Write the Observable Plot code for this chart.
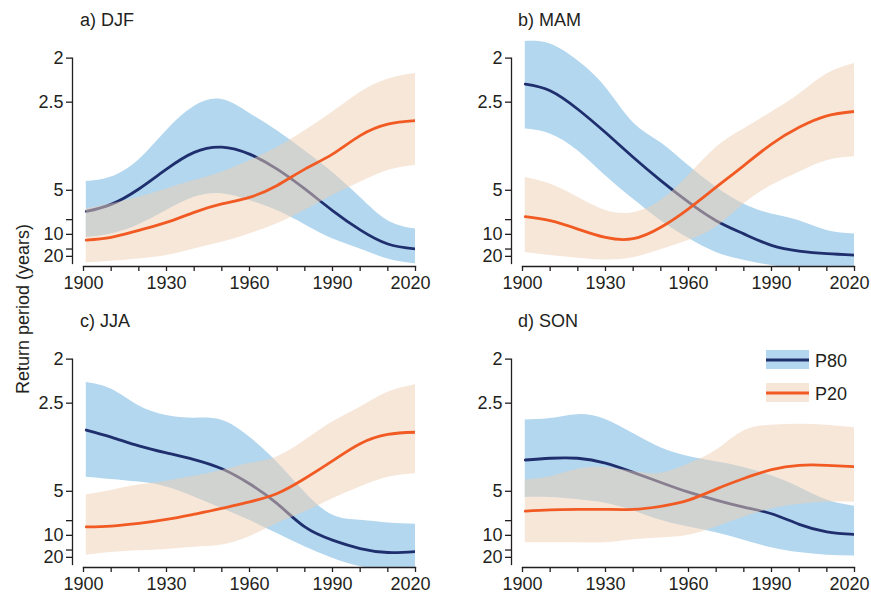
<!DOCTYPE html>
<html>
<head>
<meta charset="utf-8">
<script src="https://cdn.jsdelivr.net/npm/d3@7"></script>
<script src="https://cdn.jsdelivr.net/npm/@observablehq/plot@0.6"></script>
<style>
html, body { margin: 0; padding: 0; background: #fff; }
#wrap { position: relative; width: 871px; height: 599px; font-family: "Liberation Sans", Arial, sans-serif; color: #231f20; }
.panel { position: absolute; width: 435px; height: 300px; }
#overlay { position: absolute; left: 0; top: 0; pointer-events: none; }
</style>
</head>
<body>
<div id="wrap"></div>
<script>
// ---- data: annual exceedance probability (= 1 / return period in years) ----
const years = [1901, 1910, 1920, 1930, 1940, 1950, 1960, 1970, 1980, 1990, 2000, 2010, 2020];

// a) DJF
const djfP80   = [0.152, 0.168, 0.203, 0.248, 0.286, 0.298, 0.282, 0.248, 0.203, 0.154, 0.110, 0.078, 0.067];
const djfP80Lo = [0.093, 0.101, 0.122, 0.154, 0.184, 0.192, 0.177, 0.154, 0.122, 0.090, 0.067, 0.044, 0.033];
const djfP80Hi = [0.220, 0.230, 0.269, 0.335, 0.390, 0.406, 0.375, 0.335, 0.290, 0.241, 0.184, 0.131, 0.112];
const djfP20   = [0.087, 0.093, 0.109, 0.127, 0.150, 0.169, 0.184, 0.211, 0.248, 0.282, 0.324, 0.350, 0.358];
const djfP20Lo = [0.035, 0.039, 0.044, 0.052, 0.067, 0.082, 0.101, 0.124, 0.154, 0.188, 0.218, 0.245, 0.257];
const djfP20Hi = [0.158, 0.169, 0.184, 0.203, 0.222, 0.241, 0.267, 0.297, 0.335, 0.377, 0.422, 0.452, 0.465];

// b) MAM
const mamP80   = [0.441, 0.426, 0.384, 0.331, 0.275, 0.222, 0.173, 0.131, 0.101, 0.075, 0.062, 0.056, 0.053];
const mamP80Lo = [0.339, 0.328, 0.290, 0.233, 0.180, 0.131, 0.091, 0.059, 0.041, 0.029, 0.022, 0.018, 0.016];
const mamP80Hi = [0.538, 0.532, 0.494, 0.434, 0.354, 0.308, 0.256, 0.207, 0.169, 0.146, 0.131, 0.109, 0.101];
const mamP20   = [0.140, 0.131, 0.112, 0.093, 0.090, 0.116, 0.158, 0.207, 0.256, 0.305, 0.343, 0.369, 0.379];
const mamP20Lo = [0.059, 0.052, 0.046, 0.042, 0.047, 0.065, 0.086, 0.116, 0.169, 0.211, 0.241, 0.267, 0.276];
const mamP20Hi = [0.229, 0.214, 0.184, 0.154, 0.149, 0.177, 0.233, 0.297, 0.339, 0.377, 0.418, 0.464, 0.488];

// c) JJA
const jjaP80   = [0.339, 0.323, 0.303, 0.287, 0.272, 0.251, 0.217, 0.172, 0.119, 0.089, 0.070, 0.061, 0.063];
const jjaP80Lo = [0.232, 0.227, 0.221, 0.210, 0.187, 0.161, 0.134, 0.104, 0.074, 0.048, 0.029, 0.020, 0.018];
const jjaP80Hi = [0.447, 0.432, 0.394, 0.372, 0.366, 0.361, 0.323, 0.266, 0.198, 0.146, 0.134, 0.128, 0.125];
const jjaP20   = [0.119, 0.121, 0.127, 0.136, 0.148, 0.161, 0.176, 0.195, 0.229, 0.269, 0.308, 0.329, 0.334];
const jjaP20Lo = [0.055, 0.061, 0.065, 0.068, 0.073, 0.078, 0.097, 0.127, 0.153, 0.183, 0.210, 0.232, 0.240];
const jjaP20Hi = [0.192, 0.202, 0.214, 0.223, 0.234, 0.247, 0.263, 0.278, 0.315, 0.357, 0.391, 0.425, 0.442];

// d) SON
const sonP80   = [0.271, 0.275, 0.275, 0.264, 0.243, 0.220, 0.198, 0.180, 0.164, 0.149, 0.125, 0.108, 0.102];
const sonP80Lo = [0.186, 0.186, 0.181, 0.173, 0.156, 0.134, 0.119, 0.106, 0.089, 0.072, 0.061, 0.055, 0.053];
const sonP80Hi = [0.362, 0.365, 0.374, 0.363, 0.331, 0.299, 0.279, 0.267, 0.254, 0.235, 0.209, 0.180, 0.166];
const sonP20   = [0.155, 0.158, 0.159, 0.159, 0.159, 0.166, 0.180, 0.205, 0.229, 0.249, 0.259, 0.259, 0.256];
const sonP20Lo = [0.083, 0.083, 0.083, 0.083, 0.090, 0.094, 0.100, 0.119, 0.141, 0.160, 0.170, 0.175, 0.175];
const sonP20Hi = [0.226, 0.233, 0.250, 0.254, 0.245, 0.241, 0.262, 0.293, 0.337, 0.350, 0.352, 0.350, 0.344];

// ---- tick labels ----
const xTicks = [1900, 1910, 1920, 1930, 1940, 1950, 1960, 1970, 1980, 1990, 2000, 2010, 2020];
const xLabels = [1900, 1930, 1960, 1990];
const xLastLabel = [2020];
const yTickPeriods = [2, 2.5, 5, 7.5, 10, 15, 20];
const yLabelPeriods = [2, 2.5, 5, 10, 20];
const panelTitles = ["a) DJF", "b) MAM", "c) JJA", "d) SON"];
const seriesNames = ["P80", "P20"];

// ---- style ----
const BLUE_BAND = "#b3d7ef";
const NAVY = "#1f2e6d";
const PEACH_BAND = "#f0cfb4";
const PEACH_OPACITY = 0.5;
const PEACH_LEGEND = "#f6e6d8";
const ORANGE = "#f15a22";
const INK = "#231f20";
const FONT = "'Liberation Sans', Arial, sans-serif";

const W = 435, H = 300;
const M = {top: 40, bottom: 34, left: 72, right: 20};
const Y_DOMAIN = [0.027, 0.54];
const X_DOMAIN = [1900, 2020];
const X_INSET = 11;

const panels = [
  {title: panelTitles[0], left: 0,   top: 0,   p80: djfP80, p80Lo: djfP80Lo, p80Hi: djfP80Hi, p20: djfP20, p20Lo: djfP20Lo, p20Hi: djfP20Hi},
  {title: panelTitles[1], left: 439, top: 0,   p80: mamP80, p80Lo: mamP80Lo, p80Hi: mamP80Hi, p20: mamP20, p20Lo: mamP20Lo, p20Hi: mamP20Hi},
  {title: panelTitles[2], left: 0,   top: 301, p80: jjaP80, p80Lo: jjaP80Lo, p80Hi: jjaP80Hi, p20: jjaP20, p20Lo: jjaP20Lo, p20Hi: jjaP20Hi},
  {title: panelTitles[3], left: 439, top: 301, p80: sonP80, p80Lo: sonP80Lo, p80Hi: sonP80Hi, p20: sonP20, p20Lo: sonP20Lo, p20Hi: sonP20Hi}
];

const wrap = document.getElementById("wrap");
const plotH = H - M.top - M.bottom;
const topTick = 1 / d3.min(yTickPeriods);
const axisTopInset = (Y_DOMAIN[1] - topTick) / (Y_DOMAIN[1] - Y_DOMAIN[0]) * plotH;
const curve = "natural";

for (const p of panels) {
  const rows = years.map((yr, i) => ({
    year: yr,
    p80: p.p80[i], p80Lo: p.p80Lo[i], p80Hi: p.p80Hi[i],
    p20: p.p20[i], p20Lo: p.p20Lo[i], p20Hi: p.p20Hi[i]
  }));
  const chart = Plot.plot({
    width: W, height: H,
    marginTop: M.top, marginBottom: M.bottom, marginLeft: M.left, marginRight: M.right,
    x: {domain: X_DOMAIN, insetLeft: X_INSET, label: null},
    y: {domain: Y_DOMAIN, label: null},
    style: {fontSize: "18px", fontFamily: FONT, color: INK, background: "transparent", overflow: "visible"},
    marks: [
      Plot.areaY(rows, {x: "year", y1: "p80Lo", y2: "p80Hi", fill: BLUE_BAND, curve, clip: true}),
      Plot.lineY(rows, {x: "year", y: "p80", stroke: NAVY, strokeWidth: 2.8, curve, clip: true}),
      Plot.areaY(rows, {x: "year", y1: "p20Lo", y2: "p20Hi", fill: PEACH_BAND, fillOpacity: PEACH_OPACITY, curve, clip: true}),
      Plot.lineY(rows, {x: "year", y: "p20", stroke: ORANGE, strokeWidth: 2.8, curve, clip: true}),
      Plot.frame({anchor: "left", stroke: INK, strokeWidth: 1.3, insetTop: axisTopInset, insetBottom: 3}),
      Plot.frame({anchor: "bottom", stroke: INK, strokeWidth: 1.3, insetLeft: X_INSET}),
      Plot.axisX({ticks: xTicks, tickSize: 5, tickPadding: 5, stroke: INK, strokeWidth: 1.3, fill: INK,
        tickFormat: d => xLabels.includes(d) ? String(d) : ""}),
      Plot.axisX({ticks: xLastLabel, tickSize: 0, tickPadding: 10, dx: -5, fill: INK, tickFormat: d => String(d)}),
      Plot.axisY({ticks: yTickPeriods.map(t => 1 / t), tickSize: 6, tickPadding: 3, stroke: INK, strokeWidth: 1.3, fill: INK,
        tickFormat: v => { const t = Math.round(10 / v) / 10; return yLabelPeriods.includes(t) ? String(t) : ""; }})
    ]
  });
  const div = document.createElement("div");
  div.className = "panel";
  div.style.left = p.left + "px";
  div.style.top = p.top + "px";
  div.appendChild(chart);
  wrap.appendChild(div);
}

// ---- overlay: titles, y label, legend ----
const svg = d3.select(wrap).append("svg")
  .attr("id", "overlay").attr("width", 871).attr("height", 599)
  .style("font-family", FONT).style("fill", INK);

for (const p of panels) {
  svg.append("text").attr("x", p.left + (p.left ? 79 : 80)).attr("y", p.top + 26)
    .attr("font-size", 18).attr("fill", INK).text(p.title);
}
svg.append("text")
  .attr("transform", "translate(29,309) rotate(-90)")
  .attr("text-anchor", "middle").attr("font-size", 18).attr("fill", INK)
  .text("Return period (years)");

const legendItems = [
  {name: seriesNames[0], band: BLUE_BAND, line: NAVY, y: 350},
  {name: seriesNames[1], band: PEACH_LEGEND, line: ORANGE, y: 383}
];
for (const it of legendItems) {
  svg.append("rect").attr("x", 766).attr("y", it.y).attr("width", 43).attr("height", 19).attr("fill", it.band);
  svg.append("line").attr("x1", 766).attr("x2", 809).attr("y1", it.y + 10).attr("y2", it.y + 10)
    .attr("stroke", it.line).attr("stroke-width", 2.8);
  svg.append("text").attr("x", 815).attr("y", it.y + 16.5).attr("font-size", 18).attr("fill", INK).text(it.name);
}
</script>
</body>
</html>
